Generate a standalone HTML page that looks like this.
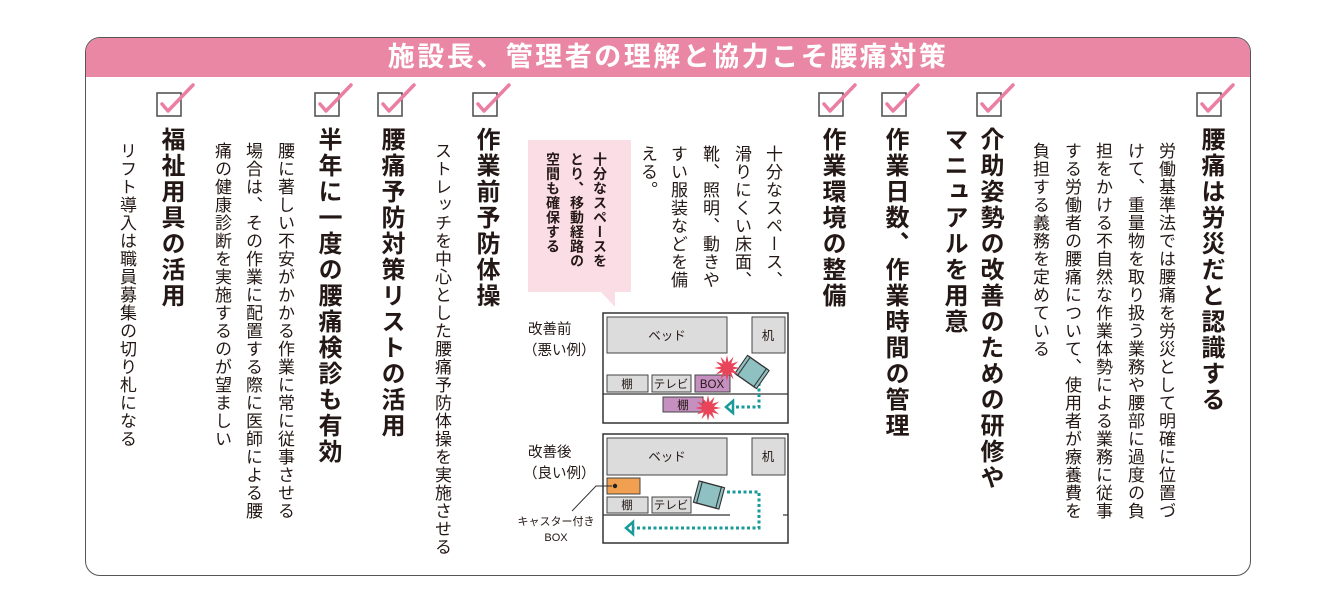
<!DOCTYPE html>
<html><head><meta charset="utf-8">
<style>
body{margin:0;width:1337px;height:611px;background:#fff;position:relative;overflow:hidden;font-family:"Liberation Sans","Noto Sans CJK JP",sans-serif;color:#231815}
.frame{position:absolute;left:85px;top:37px;width:1164px;height:537px;border:1.5px solid #555;border-radius:15px;overflow:hidden}
.hdr{position:absolute;left:0;top:0;width:100%;height:39px;background:#ea87a5;color:#fff;font-size:27px;font-weight:bold;text-align:center;line-height:39px;letter-spacing:2.5px}
.v{position:absolute;writing-mode:vertical-rl;white-space:nowrap;line-height:1}
.h{font-size:24px;font-weight:bold;letter-spacing:2px;width:24px;top:127px}
.b{font-size:17px;letter-spacing:1px;width:17px;top:142px}
.s{font-size:14px;font-weight:bold;letter-spacing:0.5px;width:15px;top:152px}
svg{position:absolute;left:0;top:0}
</style></head><body>
<div class="frame"><div class="hdr">施設長、管理者の理解と協力こそ腰痛対策</div></div>

<svg width="1337" height="611">
<defs>
<g id="cb"><rect x="0" y="0" width="24" height="23" fill="#fff" stroke="#555" stroke-width="1.6"/><path d="M5 11 L11 18 L36 -8" fill="none" stroke="#ea7fa3" stroke-width="3.5" stroke-linecap="round" stroke-linejoin="round"/></g>
<polygon id="star" fill="#e8455a" points="13,0 5.8,1.55 11.26,6.5 4.24,4.24 6.5,11.26 1.55,5.8 0,13 -1.55,5.8 -6.5,11.26 -4.24,4.24 -11.26,6.5 -5.8,1.55 -13,0 -5.8,-1.55 -11.26,-6.5 -4.24,-4.24 -6.5,-11.26 -1.55,-5.8 0,-13 1.55,-5.8 6.5,-11.26 4.24,-4.24 11.26,-6.5 5.8,-1.55"/>
<g id="chair"><rect x="-10" y="-10" width="20" height="20" fill="#8fc0c2" stroke="#333" stroke-width="1.2"/><rect x="-12" y="-10" width="3" height="20" fill="#8fc0c2" stroke="#333" stroke-width="1"/><rect x="9" y="-10" width="3" height="20" fill="#8fc0c2" stroke="#333" stroke-width="1"/></g>
</defs>
<use href="#cb" x="1197" y="93"/>
<use href="#cb" x="977" y="93"/>
<use href="#cb" x="882" y="93"/>
<use href="#cb" x="819" y="93"/>
<use href="#cb" x="473" y="93"/>
<use href="#cb" x="378" y="93"/>
<use href="#cb" x="315" y="93"/>
<use href="#cb" x="157" y="93"/>

<rect x="528" y="140" width="103" height="152" fill="#fbdde6"/>
<polygon points="600,291 615,291 615,307" fill="#fbdde6"/>

<g font-family="Liberation Sans, Noto Sans CJK JP, sans-serif" fill="#231815">
<rect x="603" y="313" width="185" height="110" fill="#fff" stroke="#333" stroke-width="1.5"/>
<rect x="607" y="317" width="120" height="36" fill="#dcdcdc" stroke="#444"/>
<text x="667" y="340" font-size="12.5" text-anchor="middle">ベッド</text>
<rect x="752" y="317" width="33" height="36" fill="#dcdcdc" stroke="#444"/>
<text x="768" y="340" font-size="12.5" text-anchor="middle">机</text>
<rect x="607" y="375" width="41" height="17" fill="#dcdcdc" stroke="#444"/>
<text x="627" y="388" font-size="11.5" text-anchor="middle">棚</text>
<rect x="652" y="375" width="39" height="17" fill="#dcdcdc" stroke="#444"/>
<text x="671" y="388" font-size="11.5" text-anchor="middle">テレビ</text>
<rect x="695" y="375" width="35" height="17" fill="#c58fc0" stroke="#444"/>
<text x="712" y="388" font-size="11.5" text-anchor="middle">BOX</text>
<line x1="603" y1="394" x2="788" y2="394" stroke="#333" stroke-width="1.2"/>
<rect x="663" y="397" width="40" height="15" fill="#c58fc0" stroke="#444"/>
<text x="683" y="409" font-size="11.5" text-anchor="middle">棚</text>
<path d="M759 383 L759 407 L733 407" fill="none" stroke="#1a9a9a" stroke-width="3" stroke-dasharray="3,2.5"/>
<polygon points="733,401 726,407 733,413" fill="none" stroke="#1a9a9a" stroke-width="2.5"/>
<use href="#chair" transform="translate(752,372) rotate(35) scale(1.1)"/>
<use href="#star" transform="translate(727,368)"/>
<use href="#star" transform="translate(708,408)"/>
<text x="528" y="334" font-size="14.5">改善前</text>
<text x="523" y="355" font-size="14.5">（悪い例）</text>

<rect x="603" y="434" width="185" height="109" fill="#fff" stroke="#333" stroke-width="1.5"/>
<rect x="607" y="438" width="120" height="37" fill="#dcdcdc" stroke="#444"/>
<text x="667" y="461" font-size="12.5" text-anchor="middle">ベッド</text>
<rect x="752" y="438" width="33" height="37" fill="#dcdcdc" stroke="#444"/>
<text x="768" y="461" font-size="12.5" text-anchor="middle">机</text>
<rect x="607" y="478" width="33" height="16" fill="#f0a050" stroke="#444"/>
<circle cx="615" cy="486" r="2.2" fill="#222"/>
<rect x="607" y="497" width="41" height="16" fill="#dcdcdc" stroke="#444"/>
<text x="627" y="509" font-size="11.5" text-anchor="middle">棚</text>
<rect x="652" y="497" width="39" height="16" fill="#dcdcdc" stroke="#444"/>
<text x="671" y="509" font-size="11.5" text-anchor="middle">テレビ</text>
<line x1="603" y1="515" x2="730" y2="515" stroke="#333" stroke-width="1.2"/>
<line x1="783" y1="515" x2="788" y2="515" stroke="#333" stroke-width="1.2"/>
<path d="M727 492 L759 492 L759 528 L632 528" fill="none" stroke="#1a9a9a" stroke-width="3" stroke-dasharray="3,2.5"/>
<polygon points="633,522 626,528 633,534" fill="none" stroke="#1a9a9a" stroke-width="2.5"/>
<use href="#chair" transform="translate(709,495) rotate(15) scale(1.1)"/>
<polyline points="612,486 596,486 572,511" fill="none" stroke="#333" stroke-width="1"/>
<text x="528" y="457" font-size="14.5">改善後</text>
<text x="523" y="478" font-size="14.5">（良い例）</text>
<text x="556" y="525" font-size="11" text-anchor="middle">キャスター付き</text>
<text x="556" y="541" font-size="11" text-anchor="middle">BOX</text>
</g>
</svg>

<div class="v h" style="left:1198px">腰痛は労災だと認識する</div>
<div class="v b" style="left:1157px">労働基準法では腰痛を労災として明確に位置づ</div>
<div class="v b" style="left:1126px">けて、重量物を取り扱う業務や腰部に過度の負</div>
<div class="v b" style="left:1094px">担をかける不自然な作業体勢による業務に従事</div>
<div class="v b" style="left:1063px">する労働者の腰痛について、使用者が療養費を</div>
<div class="v b" style="left:1031px">負担する義務を定めている</div>
<div class="v h" style="left:977px">介助姿勢の改善のための研修や</div>
<div class="v h" style="left:941px">マニュアルを用意</div>
<div class="v h" style="left:882px">作業日数、作業時間の管理</div>
<div class="v h" style="left:819px">作業環境の整備</div>
<div class="v b" style="left:764px;top:145px">十分なスペース、</div>
<div class="v b" style="left:733px;top:145px">滑りにくい床面、</div>
<div class="v b" style="left:701px;top:145px">靴、照明、動きや</div>
<div class="v b" style="left:669px;top:145px">すい服装などを備</div>
<div class="v b" style="left:639px;top:145px">える。</div>
<div class="v s" style="left:592px">十分なスペースを</div>
<div class="v s" style="left:569px">とり、移動経路の</div>
<div class="v s" style="left:545px">空間も確保する</div>
<div class="v h" style="left:473px">作業前予防体操</div>
<div class="v b" style="left:433px">ストレッチを中心とした腰痛予防体操を実施させる</div>
<div class="v h" style="left:378px">腰痛予防対策リストの活用</div>
<div class="v h" style="left:315px">半年に一度の腰痛検診も有効</div>
<div class="v b" style="left:276px">腰に著しい不安がかかる作業に常に従事させる</div>
<div class="v b" style="left:244px">場合は、その作業に配置する際に医師による腰</div>
<div class="v b" style="left:213px">痛の健康診断を実施するのが望ましい</div>
<div class="v h" style="left:158px">福祉用具の活用</div>
<div class="v b" style="left:118px">リフト導入は職員募集の切り札になる</div>
</body></html>
